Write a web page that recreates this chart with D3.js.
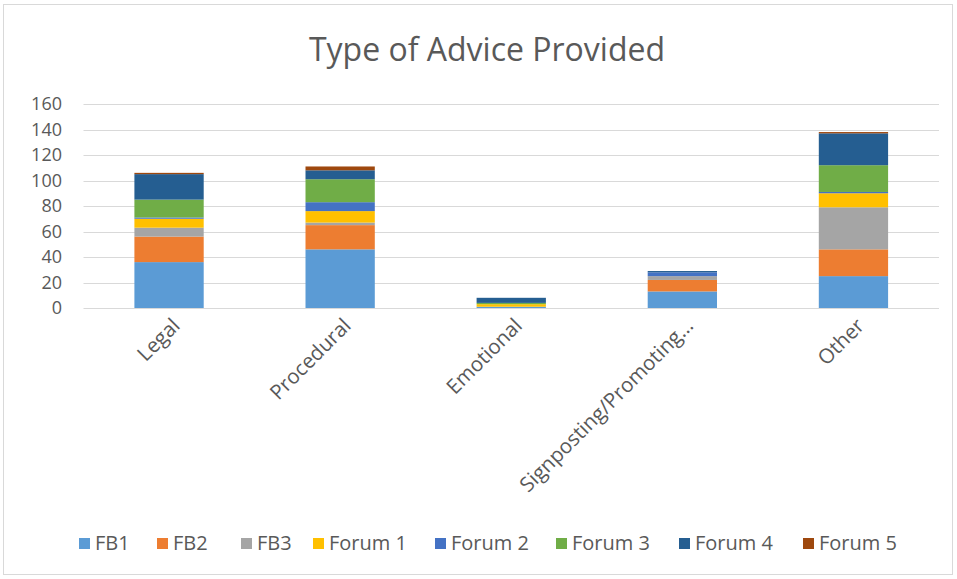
<!DOCTYPE html>
<html>
<head>
<meta charset="utf-8">
<script src="https://cdn.jsdelivr.net/npm/d3@7"></script>
<style>
  body { margin: 0; background: #fff; }
  svg { display: block; font-family: "Open Sans", sans-serif; }
</style>
</head>
<body>
<svg></svg>
<script>
let categories = ['Legal', 'Procedural', 'Emotional', 'Signposting/Promoting…', 'Other']
let seriesNames = ['FB1', 'FB2', 'FB3', 'Forum 1', 'Forum 2', 'Forum 3', 'Forum 4', 'Forum 5']
let seriesColors = ['#5b9bd5', '#ed7d31', '#a5a5a5', '#ffc000', '#4472c4', '#70ad47', '#255e91', '#9e480e']

// one array per series, in category order
let fb1 = [36, 46, 1, 13, 25]
let fb2 = [20, 19, 0, 9, 21]
let fb3 = [7, 2, 0, 3, 33]
let forum1 = [7, 9, 2, 0, 11]
let forum2 = [1, 7, 0, 3, 1]
let forum3 = [14, 18, 1, 0, 21]
let forum4 = [20, 7, 4, 1, 25]
let forum5 = [1, 3, 0, 0, 1]

let yTicks = [0, 20, 40, 60, 80, 100, 120, 140, 160]

let width = 957
let height = 579

let svg = d3.select('svg')
svg.attr('width', width).attr('height', height)

// chart border
svg.append('rect')
   .attr('x', 3.5).attr('y', 4.5)
   .attr('width', 949).attr('height', 570)
   .attr('fill', '#fff')
   .attr('stroke', '#d9d9d9')

svg.append('text')
   .attr('x', 487).attr('y', 61)
   .attr('text-anchor', 'middle')
   .attr('font-size', 32)
   .attr('fill', '#595959')
   .text('Type of Advice Provided')

let xScale = d3.scaleBand()
               .domain(categories)
               .range([83.5, 939])
               .padding(0)

let yScale = d3.scaleLinear()
               .domain([0, 160])
               .range([308, 104])

// gridlines
svg.append('g')
   .selectAll('line')
   .data(yTicks)
   .enter()
   .append('line')
   .attr('x1', 83.5).attr('x2', 939)
   .attr('y1', d => Math.round(yScale(d)) + 0.5)
   .attr('y2', d => Math.round(yScale(d)) + 0.5)
   .attr('stroke', '#d9d9d9')
   .attr('stroke-width', 1)

let yAxis = d3.axisLeft(yScale).tickValues(yTicks).tickSize(0).tickPadding(0)
let yG = svg.append('g')
            .attr('transform', 'translate(62,0)')
            .call(yAxis)
yG.select('.domain').remove()
yG.selectAll('text')
  .attr('font-size', 18)
  .attr('fill', '#595959')
  .attr('font-family', '"Open Sans", sans-serif')

let seriesData = [fb1, fb2, fb3, forum1, forum2, forum3, forum4, forum5]
let table = categories.map((c, i) => {
    let row = { cat: c }
    seriesNames.forEach((s, j) => { row[s] = seriesData[j][i] })
    return row
})

let stacked = d3.stack().keys(seriesNames)(table)
let barW = xScale.bandwidth() * 0.405

svg.append('g')
   .selectAll('g')
   .data(stacked)
   .enter()
   .append('g')
   .attr('fill', (d, i) => seriesColors[i])
   .selectAll('rect')
   .data(d => d)
   .enter()
   .append('rect')
   .attr('x', d => xScale(d.data.cat) + xScale.bandwidth() / 2 - barW / 2)
   .attr('width', barW)
   .attr('y', d => yScale(d[1]))
   .attr('height', d => yScale(d[0]) - yScale(d[1]))

// x labels, rotated
svg.append('g')
   .selectAll('text')
   .data(categories)
   .enter()
   .append('text')
   .attr('transform', d => 'translate(' + (xScale(d) + xScale.bandwidth() / 2 + 7) + ',322) rotate(-45)')
   .attr('text-anchor', 'end')
   .attr('dy', '0.35em')
   .attr('font-size', 20.5)
   .attr('fill', '#595959')
   .text(d => d)

// legend
let legendX = [79, 157, 241, 313, 435, 556, 679, 803]
let legend = svg.append('g')
                .selectAll('g')
                .data(seriesNames)
                .enter()
                .append('g')
                .attr('transform', (d, i) => 'translate(' + legendX[i] + ',543)')
legend.append('rect')
      .attr('x', 0).attr('y', -5)
      .attr('width', 11).attr('height', 11)
      .attr('fill', (d, i) => seriesColors[i])
legend.append('text')
      .attr('x', 16).attr('dy', '0.35em')
      .attr('font-size', 20)
      .attr('fill', '#595959')
      .text(d => d)
</script>
</body>
</html>
